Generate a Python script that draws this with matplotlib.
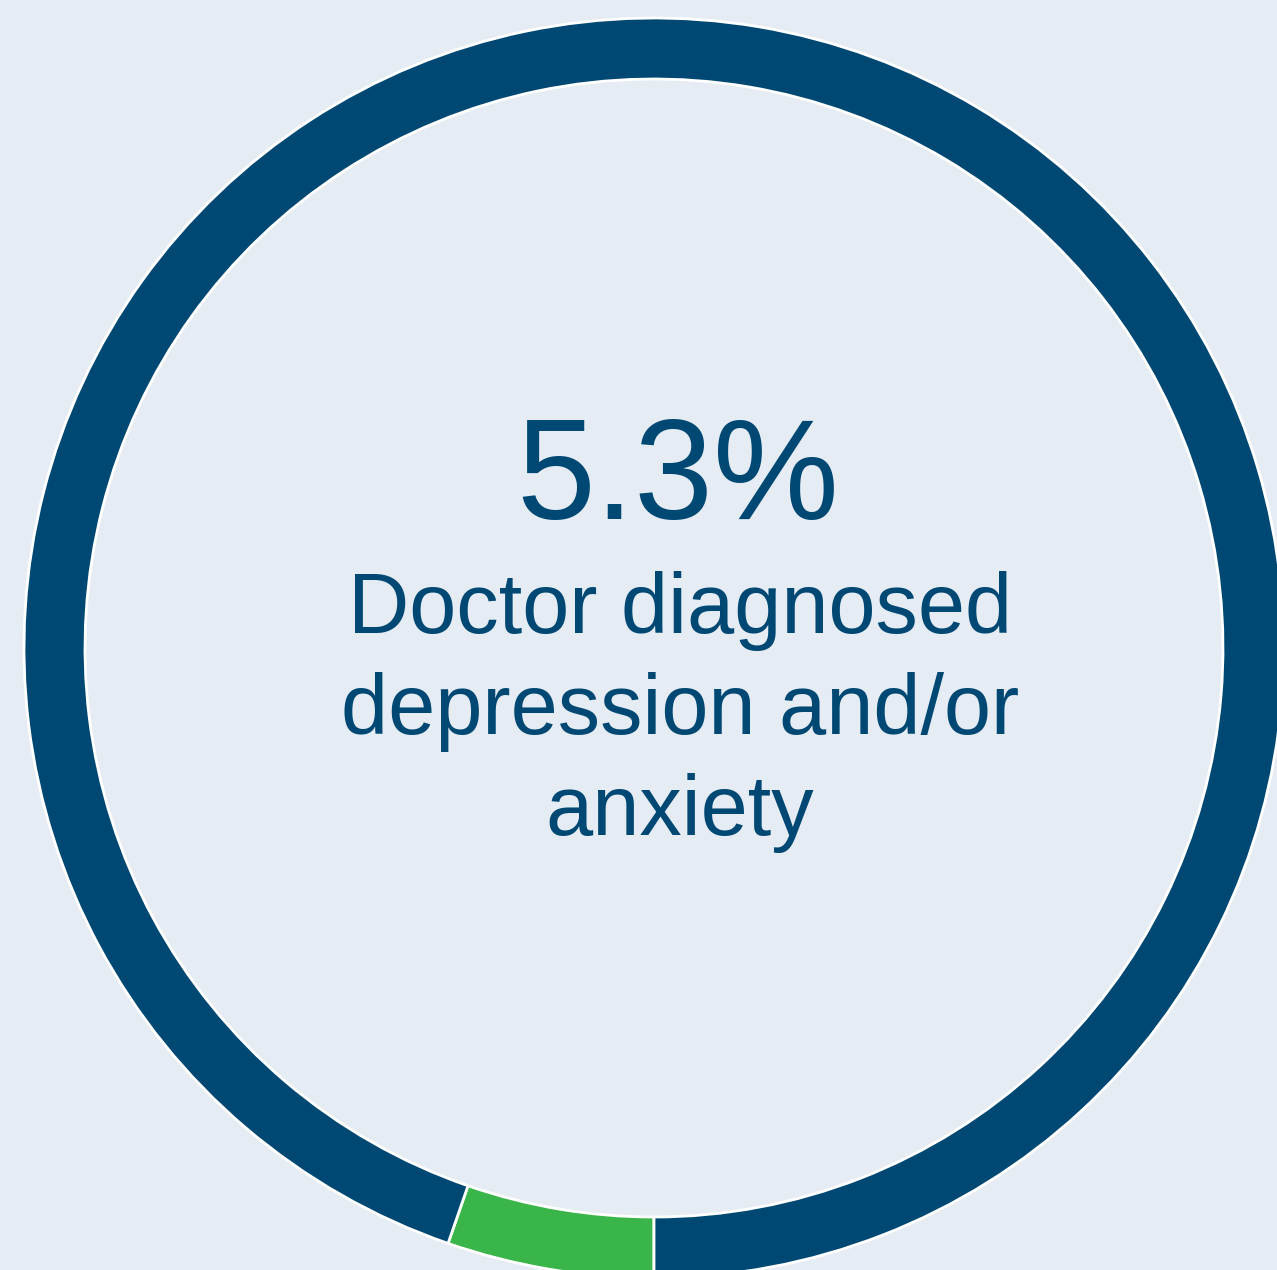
import matplotlib.pyplot as plt

# data
labels = ['Doctor diagnosed depression and/or anxiety', 'Other']
values = [5.3, 94.7]
colors = ['#3AB54A', '#004874']
headline = '5.3%'
caption_lines = ['Doctor diagnosed', 'depression and/or', 'anxiety']

bg = '#E6ECF3'
W, H = 1277, 1270

fig = plt.figure(figsize=(W / 100, H / 100), dpi=100, facecolor=bg)
ax = fig.add_axes([0, 0, 1, 1])
ax.set_facecolor(bg)

# ring, starting at the bottom and going clockwise
ax.pie(values, colors=colors, startangle=270, counterclock=False,
       center=(654, H - 648), radius=630, frame=True,
       wedgeprops=dict(width=61, edgecolor='white', linewidth=2))
ax.set_xlim(0, W)
ax.set_ylim(0, H)
ax.set_aspect('equal')
ax.axis('off')

plt.rcParams['font.family'] = ['Liberation Sans', 'DejaVu Sans']
ax.text(678, H - 519, headline, ha='center', va='baseline',
        fontsize=102, color=colors[1])
for i, line in enumerate(caption_lines):
    ax.text(680, H - 633 - i * 101, line, ha='center', va='baseline',
            fontsize=61, color=colors[1])

fig.savefig('out.png', dpi=100, facecolor=bg)
